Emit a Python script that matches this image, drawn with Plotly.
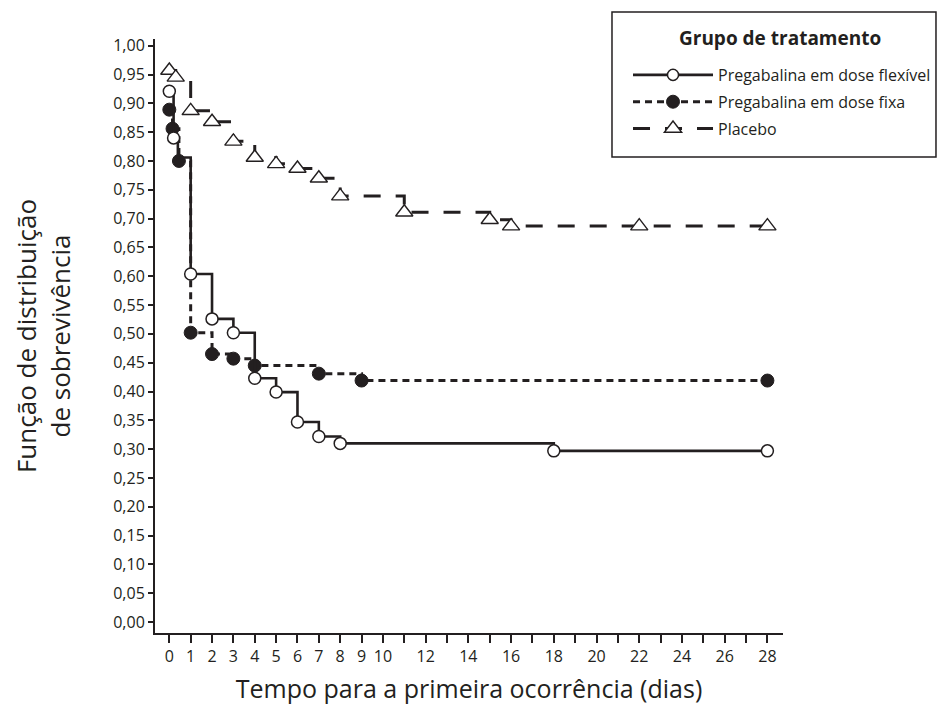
import plotly.graph_objects as go

# ---- data ----
flex_days = [0, 0.2, 0.4, 1, 2, 3, 4, 5, 6, 7, 8, 18, 28]
flex_surv = [0.921, 0.840, 0.806, 0.604, 0.526, 0.502, 0.423, 0.399, 0.347, 0.322, 0.310, 0.297, 0.297]
flex_mark = [1, 1, 0, 1, 1, 1, 1, 1, 1, 1, 1, 1, 1]

fixa_days = [0, 0.15, 0.45, 1, 2, 3, 4, 7, 9, 28]
fixa_surv = [0.889, 0.856, 0.800, 0.502, 0.465, 0.457, 0.445, 0.431, 0.419, 0.419]

plac_days = [0, 0.3, 1, 2, 3, 4, 5, 6, 7, 8, 11, 15, 16, 22, 28]
plac_surv = [0.957, 0.945, 0.887, 0.868, 0.834, 0.806, 0.795, 0.787, 0.770, 0.739, 0.711, 0.698, 0.687, 0.687, 0.687]

x_tick_vals = [0, 1, 2, 3, 4, 5, 6, 7, 8, 9, 10, 12, 14, 16, 18, 20, 22, 24, 26, 28]
y_tick_vals = [i * 0.05 for i in range(21)]

series_names = ["Pregabalina em dose flexível", "Pregabalina em dose fixa", "Placebo"]
legend_title = "Grupo de tratamento"

INK = "#231f20"
FONT = "Open Sans"

fig = go.Figure()

fig.add_trace(go.Scatter(
    x=plac_days, y=plac_surv, name=series_names[2], legendgroup="c", legendrank=3,
    mode="lines+markers", line=dict(shape="hv", color=INK, width=3, dash="17px,15px"),
    marker=dict(symbol="triangle-up", size=15, color="white", opacity=1,
                line=dict(color=INK, width=1.4)),
))
fig.add_trace(go.Scatter(
    x=fixa_days, y=fixa_surv, name=series_names[1], legendgroup="b", legendrank=2,
    mode="lines+markers", line=dict(shape="hv", color=INK, width=3, dash="7px,5px"),
    marker=dict(symbol="circle", size=13, color=INK, opacity=1, line=dict(color=INK, width=1)),
))
fig.add_trace(go.Scatter(
    x=flex_days, y=flex_surv, name=series_names[0], legendgroup="a", legendrank=1,
    mode="lines+markers", line=dict(shape="hv", color=INK, width=2.6),
    marker=dict(symbol="circle", size=[12 * m for m in flex_mark], color="white", opacity=1,
                line=dict(color=INK, width=1.5)),
))

fig.update_layout(
    width=945, height=710,
    margin=dict(l=147, r=170, t=31, b=85, autoexpand=False),
    paper_bgcolor="white", plot_bgcolor="white",
    separators=", ",
    font=dict(family=FONT, color=INK, size=16),
    legend=dict(
        traceorder="grouped",
        tracegroupgap=3,
        x=0.7532, y=0.968, xanchor="left", yanchor="top",
        borderwidth=0, bgcolor="rgba(0,0,0,0)",
        font=dict(family=FONT, size=16, color=INK),
        itemwidth=80,
    ),
    showlegend=True,
    shapes=[dict(type="rect", xref="paper", yref="paper",
                 x0=0.7277, x1=1.2436, y0=0.8013, y1=1.0455,
                 line=dict(color=INK, width=1.5), fillcolor="white", layer="below")],
    annotations=[dict(text="<b>" + legend_title + "</b>", xref="paper", yref="paper",
                      x=0.9952, y=1.0017, xanchor="center", yanchor="middle",
                      showarrow=False, font=dict(family=FONT, size=19, color=INK))],
)

fig.update_xaxes(
    range=[-0.67, 28.73],
    tickvals=x_tick_vals, ticktext=[str(v) for v in x_tick_vals],
    ticks="outside", ticklen=8, tickwidth=1.5, tickcolor=INK,
    minor=dict(ticks="outside", ticklen=8, tickwidth=1.5, tickcolor=INK, dtick=1, tick0=0, showgrid=False),
    showline=True, linecolor=INK, linewidth=2,
    showgrid=False, zeroline=False,
    tickfont=dict(size=16),
    title=dict(text="Tempo para a primeira ocorrência (dias)", font=dict(size=25), standoff=14),
    automargin=False,
)
fig.update_yaxes(
    range=[-0.019, 1.0116],
    tickvals=y_tick_vals, tickformat=".2f",
    ticks="outside", ticklen=5, tickwidth=1.5, tickcolor=INK,
    showline=True, linecolor=INK, linewidth=2,
    showgrid=False, zeroline=False,
    tickfont=dict(size=16),
    title=dict(text="Função de distribuição<br>de sobrevivência", font=dict(size=26), standoff=45),
    automargin=False,
)

fig.write_html("out.html")
